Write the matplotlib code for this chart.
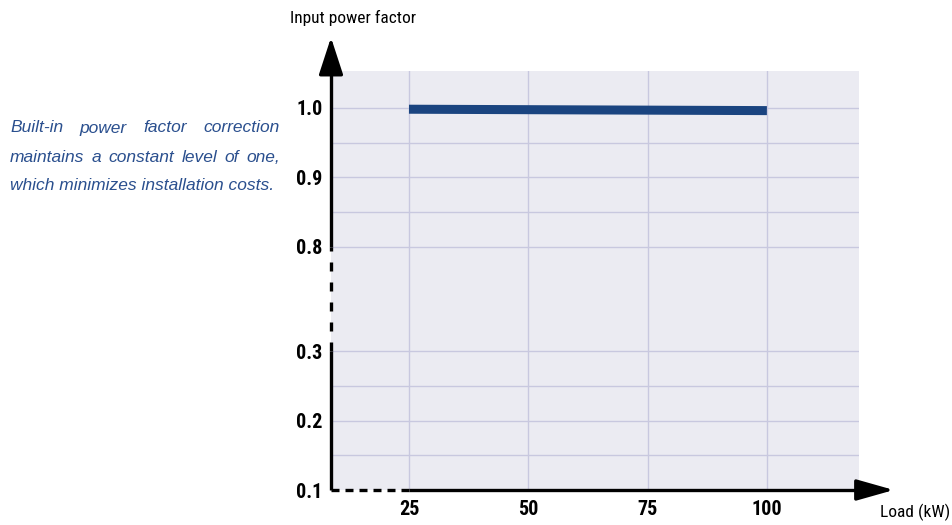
import matplotlib
matplotlib.use("Agg")
from matplotlib import pyplot as plt
from matplotlib import font_manager

# data
load_kw = [25, 100]
power_factor = [0.998, 0.996]
x_ticks = [25, 50, 75, 100]
y_ticks = [0.1, 0.2, 0.3, 0.8, 0.9, 1.0]
y_grid = [0.15, 0.2, 0.25, 0.3, 0.8, 0.85, 0.9, 0.95, 1.0]
note_lines = ["Built-in power factor correction",
              "maintains a constant level of one,",
              "which minimizes installation costs."]

BREAK_LO, BREAK_HI = 0.3, 0.8
GAP = 0.15  # room left for the broken part of the axis


def yb(v):
    # squeeze the broken section 0.3..0.8 into a short gap
    if v <= BREAK_LO:
        return v
    return v - (BREAK_HI - BREAK_LO) + GAP


# look for a condensed face, the original uses one
cond_family, cond_stretch = None, 'normal'
fonts = font_manager.fontManager.ttflist
for want in ['Liberation Sans Narrow', 'Roboto Condensed', 'DejaVu Sans Condensed',
             'Open Sans Condensed', 'Noto Sans Condensed']:
    if any(f.name == want for f in fonts):
        cond_family = want
        break
if cond_family is None:
    for f in fonts:
        if str(f.stretch) in ('condensed', 'semi-condensed', 'extra-condensed', '75', '87.5') \
                and f.name in ('Noto Sans', 'Open Sans', 'Roboto', 'Inter', 'DejaVu Sans'):
            cond_family, cond_stretch = f.name, 'condensed'
            break
if cond_family is None:
    cond_family = 'Roboto'
    lab_size, tick_size = 12, 13
else:
    lab_size, tick_size = 12.5, 14.5

plt.rcParams['font.family'] = [cond_family, 'DejaVu Sans']
plt.rcParams['font.stretch'] = cond_stretch

fig = plt.figure(figsize=(9.53, 5.25), dpi=100)
W, H = 953, 525
ax = fig.add_axes([331 / W, 35 / H, (859 - 331) / W, (490 - 71) / H])
ax.set_facecolor('#ebebf2')
xmin, xmax = 8.66, 119.3
ymin, ymax = 0.1, 0.703
ax.set_xlim(xmin, xmax)
ax.set_ylim(ymin, ymax)
for s in ax.spines.values():
    s.set_visible(False)

gcol = '#c8c8df'
for v in y_grid:
    ax.axhline(yb(v), color=gcol, lw=1, zorder=1)
for v in x_ticks:
    ax.axvline(v, color=gcol, lw=1, zorder=1)

ax.plot(load_kw, [yb(v) for v in power_factor], color='#1a4480', lw=6.5,
        solid_capstyle='butt', zorder=3)

ax.set_xticks(x_ticks)
ax.set_xticklabels([str(v) for v in x_ticks], fontweight='bold', fontsize=tick_size)
ax.set_yticks([yb(v) for v in y_ticks])
ax.set_yticklabels(['%.1f' % v for v in y_ticks], fontweight='bold', fontsize=tick_size)
ax.tick_params(length=0, pad=6)
ax.tick_params(axis='x', pad=7)

# axes lines with breaks
lw = 2.4
kw = dict(color='black', lw=lw, clip_on=False, zorder=5, solid_capstyle='butt')
ax.plot([xmin, xmin], [ymin, yb(BREAK_LO)], **kw)
ax.plot([xmin, xmin], [yb(BREAK_LO), yb(BREAK_HI)], dashes=(2.7, 3.3), **kw)
ax.plot([xmin, xmin], [yb(BREAK_HI), ymax], **kw)
ax.plot([xmin, 25], [ymin, ymin], dashes=(2.4, 1.8), **kw)
ax.plot([25, xmax], [ymin, ymin], **kw)

ax.annotate('', xy=(0, 1.08), xytext=(0, 0.999), xycoords='axes fraction',
            arrowprops=dict(arrowstyle='-|>,head_length=2.3,head_width=0.75',
                            color='black', lw=lw, mutation_scale=10,
                            shrinkA=0, shrinkB=0), annotation_clip=False)
ax.annotate('', xy=(1.066, 0), xytext=(0.999, 0), xycoords='axes fraction',
            arrowprops=dict(arrowstyle='-|>,head_length=2.3,head_width=0.65',
                            color='black', lw=lw, mutation_scale=10,
                            shrinkA=0, shrinkB=0), annotation_clip=False)

fig.text(290 / W, 1 - 18 / H, 'Input power factor', fontsize=lab_size, va='center', ha='left')
fig.text(950 / W, 1 - 512 / H, 'Load (kW)', fontsize=lab_size, va='center', ha='right')

# justified note on the left
note_kw = dict(fontsize=12.5, style='italic', color='#2a4f8e',
               family=['Liberation Sans', 'DejaVu Sans'], fontstretch='normal', va='center')
left, right = 10, 280
ys = [128, 157, 186]
fig.canvas.draw()
r = fig.canvas.get_renderer()
for i, line in enumerate(note_lines):
    y = 1 - ys[i] / H
    if i == len(note_lines) - 1:
        fig.text(left / W, y, line, **note_kw)
        continue
    words = line.split()
    arts = [fig.text(0, y, w, **note_kw) for w in words]
    widths = [a.get_window_extent(r).width for a in arts]
    gap = (right - left - sum(widths)) / (len(words) - 1)
    x = left
    for a, w in zip(arts, widths):
        a.set_x(x / W)
        x += w + gap

fig.savefig('out.png', dpi=100)
